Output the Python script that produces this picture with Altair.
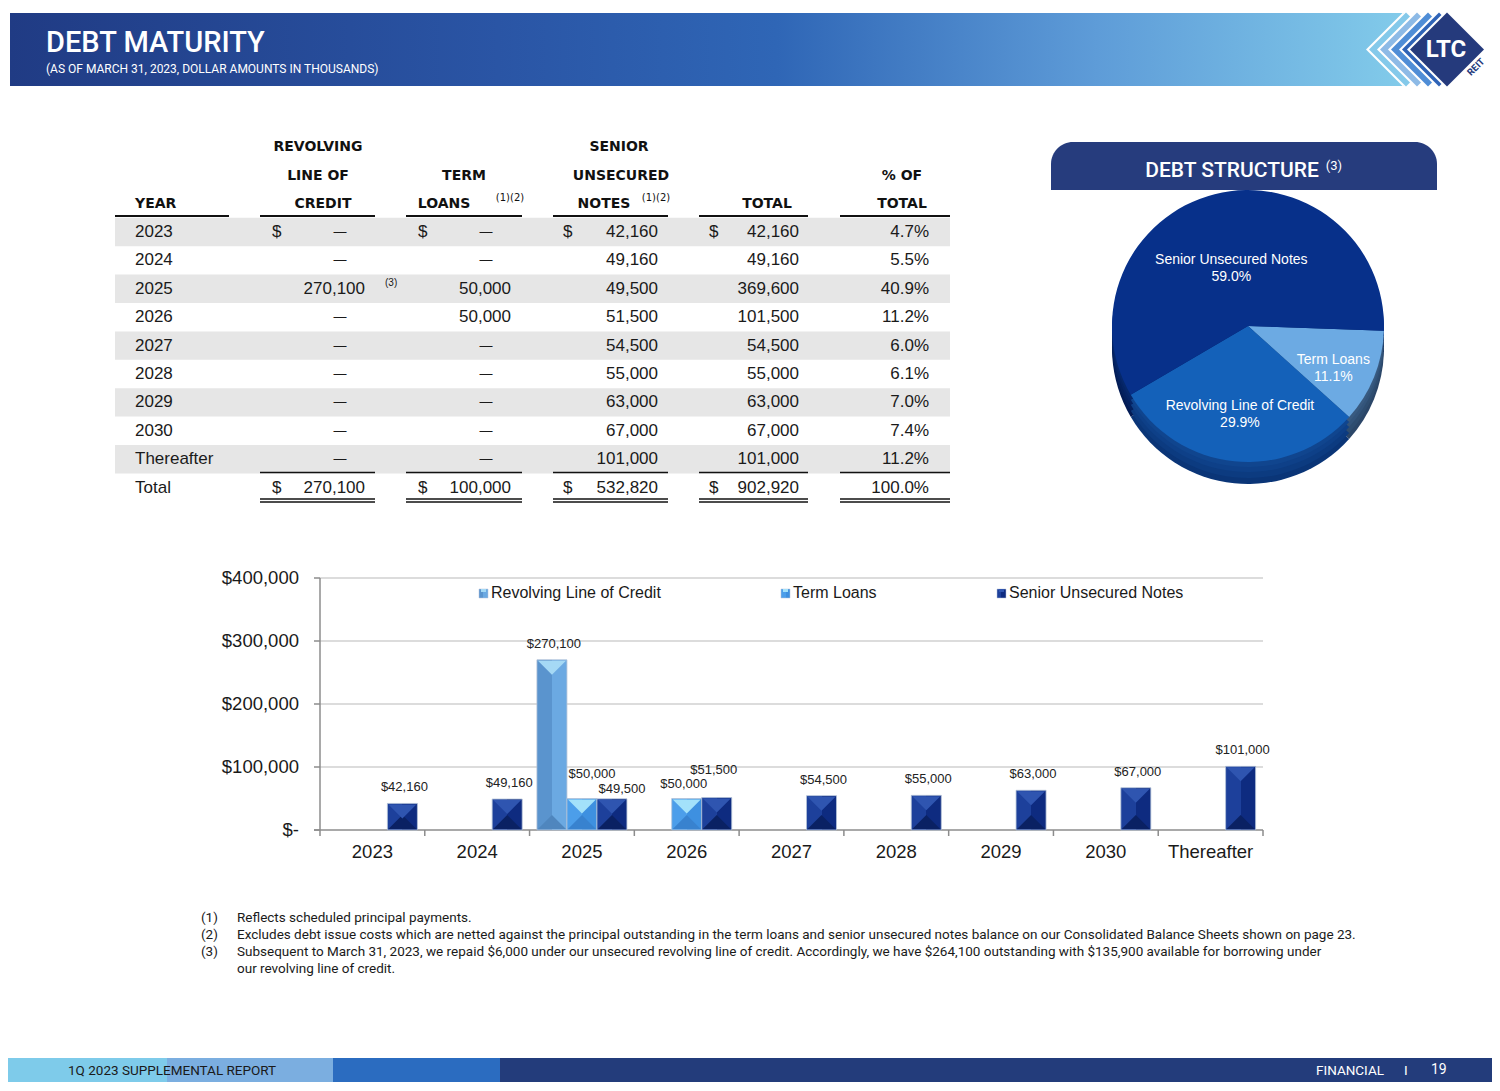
import math
import altair as alt
import pandas as pd

# ---------------- data ----------------
years = ["2023", "2024", "2025", "2026", "2027", "2028", "2029", "2030", "Thereafter"]
revolving = [0, 0, 270100, 0, 0, 0, 0, 0, 0]
term_loans = [0, 0, 50000, 50000, 0, 0, 0, 0, 0]
senior_notes = [42160, 49160, 49500, 51500, 54500, 55000, 63000, 67000, 101000]
row_totals = [42160, 49160, 369600, 101500, 54500, 55000, 63000, 67000, 101000]
pct_of_total = [4.7, 5.5, 40.9, 11.2, 6.0, 6.1, 7.0, 7.4, 11.2]
column_totals = [270100, 100000, 532820, 902920]
pct_total_all = 100.0
series_names = ["Revolving Line of Credit", "Term Loans", "Senior Unsecured Notes"]
pie_names = ["Term Loans", "Revolving Line of Credit", "Senior Unsecured Notes"]
pie_pct = [11.1, 29.9, 59.0]
y_ticks = [0, 100000, 200000, 300000, 400000]
footnote_nums = ["(1)", "(2)", "(3)", ""]
footnote_texts = [
    "Reflects scheduled principal payments.",
    "Excludes debt issue costs which are netted against the principal outstanding in the term loans and senior unsecured notes balance on our Consolidated Balance Sheets shown on page 23.",
    "Subsequent to March 31, 2023, we repaid $6,000 under our unsecured revolving line of credit. Accordingly, we have $264,100 outstanding with $135,900 available for borrowing under",
    "our revolving line of credit.",
]

# ---------------- helpers ----------------
OFF = 8  # page margin
ONE = alt.Data(values=[{}])
SANS = "Liberation Sans"
HEAD = "Roboto"


def T(text, x, y, size=14, color="#1a1a1a", align="left", baseline="middle",
      font=SANS, weight="normal", angle=None):
    kw = dict(align=align, baseline=baseline, font=font, fontSize=size,
              fontWeight=weight, color=color)
    if angle is not None:
        kw["angle"] = angle
    return alt.Chart(ONE).mark_text(**kw).encode(
        x=alt.value(x - OFF), y=alt.value(y - OFF), text=alt.value(text))


def R(x1, y1, x2, y2, color, **kw):
    return alt.Chart(ONE).mark_rect(color=color, **kw).encode(
        x=alt.value(x1 - OFF), x2=alt.value(x2 - OFF),
        y=alt.value(y1 - OFF), y2=alt.value(y2 - OFF))


def L(x1, y1, x2, y2, color="#000000", width=1.0):
    return alt.Chart(ONE).mark_rule(color=color, strokeWidth=width).encode(
        x=alt.value(x1 - OFF), x2=alt.value(x2 - OFF),
        y=alt.value(y1 - OFF), y2=alt.value(y2 - OFF))


def G(stops, horiz=True):
    return alt.Gradient(
        gradient="linear",
        stops=[alt.GradientStop(offset=o, color=c) for o, c in stops],
        x1=0, y1=0, x2=1 if horiz else 0, y2=0 if horiz else 1)


def DIA(cx, cy, r, color):
    return alt.Chart(ONE).mark_point(shape="diamond", filled=True, opacity=1,
                                     strokeWidth=0, size=(2 * r) ** 2, color=color).encode(
        x=alt.value(cx - OFF), y=alt.value(cy - OFF))


layers = []

# ---------------- header banner ----------------
layers.append(R(10, 13, 1404, 86, G([(0, "#203B84"), (0.35, "#2A55A5"), (0.55, "#2F66B6"),
                                      (0.78, "#5E9CD8"), (1, "#82CBEA")])))
logo_cx, logo_cy, logo_r = 1447, 49.5, 37
for off, col in [(44, "#ffffff"), (41, "#84C9EA"), (33, "#ffffff"), (30, "#8DBAE6"),
                 (22, "#ffffff"), (19, "#4F8DD6"), (11, "#ffffff"), (8, "#2E63B7"),
                 (3, "#ffffff"), (0, "#253A7C")]:
    layers.append(DIA(logo_cx - off, logo_cy, logo_r, col))
layers.append(T("LTC", 1446, 50, size=24, color="#ffffff", align="center", font=HEAD, weight="bold"))
layers.append(T("REIT", 1476, 67, size=9.5, color="#253A7C", align="center", font=HEAD, weight="bold", angle=315))
layers.append(T("DEBT MATURITY", 46, 43, size=29, color="#ffffff", font=HEAD, weight=500))
layers.append(T("(AS OF MARCH 31, 2023, DOLLAR AMOUNTS IN THOUSANDS)", 46, 69, size=12, color="#ffffff", font=HEAD))

# ---------------- table ----------------
def fmt(v):
    return "" if v == 0 else f"{v:,}"


rows = []
for i, yr in enumerate(years):
    rows.append(dict(ri=i, label=yr, rev=fmt(revolving[i]), term=fmt(term_loans[i]),
                     sen=fmt(senior_notes[i]), tot=fmt(row_totals[i]),
                     pct=f"{pct_of_total[i]:.1f}%", dollar=(i == 0), shade=(i % 2 == 0)))
rows.append(dict(ri=len(years), label="Total", rev=fmt(column_totals[0]), term=fmt(column_totals[1]),
                 sen=fmt(column_totals[2]), tot=fmt(column_totals[3]),
                 pct=f"{pct_total_all:.1f}%", dollar=True, shade=False))
table_df = pd.DataFrame(rows)

ROW0, ROWH = 232, 28.4
ty_scale = alt.Scale(domain=[0, 9], range=[ROW0 - OFF, ROW0 - OFF + 9 * ROWH])
tbase = alt.Chart(table_df)

layers.append(tbase.transform_filter("datum.shade").transform_calculate(
    lo="datum.ri - 0.5", hi="datum.ri + 0.5").mark_rect(color="#E6E6E6").encode(
    x=alt.value(115 - OFF), x2=alt.value(950 - OFF),
    y=alt.Y("lo:Q", scale=ty_scale, axis=None), y2="hi:Q"))

TXT = dict(font=SANS, fontSize=17, color="#1a1a1a", baseline="middle")
layers.append(tbase.mark_text(align="left", **TXT).encode(
    x=alt.value(135 - OFF), y=alt.Y("ri:Q", scale=ty_scale, axis=None), text="label:N"))

col_right = {"rev": 365, "term": 511, "sen": 658, "tot": 799, "pct": 929}
col_dollar = {"rev": 272, "term": 418, "sen": 563, "tot": 709}
col_dash = {"rev": 340, "term": 486}
for c, xr in col_right.items():
    layers.append(tbase.transform_filter(f"datum.{c} != ''").mark_text(align="right", **TXT).encode(
        x=alt.value(xr - OFF), y=alt.Y("ri:Q", scale=ty_scale, axis=None), text=f"{c}:N"))
for c, xd in col_dash.items():
    layers.append(tbase.transform_filter(f"datum.{c} == ''").mark_text(
        align="center", font=SANS, fontSize=13, color="#1a1a1a", baseline="middle", text="\u2014").encode(
        x=alt.value(xd - OFF), y=alt.Y("ri:Q", scale=ty_scale, axis=None)))
for c, xd in col_dollar.items():
    layers.append(tbase.transform_filter("datum.dollar").mark_text(align="left", text="$", **TXT).encode(
        x=alt.value(xd - OFF), y=alt.Y("ri:Q", scale=ty_scale, axis=None)))
layers.append(T("(3)", 385, 283, size=10))

HB = dict(size=14, font="DejaVu Sans", weight="bold", color="#111111")
layers += [
    T("YEAR", 135, 204, **HB),
    T("REVOLVING", 318, 147, align="center", **HB),
    T("LINE OF", 318, 176, align="center", **HB),
    T("CREDIT", 323, 204, align="center", **HB),
    T("TERM", 464, 176, align="center", **HB),
    T("LOANS", 444, 204, align="center", **HB),
    T("(1)(2)", 510, 198, size=10, align="center", font="DejaVu Sans", color="#111111"),
    T("SENIOR", 619, 147, align="center", **HB),
    T("UNSECURED", 621, 176, align="center", **HB),
    T("NOTES", 604, 204, align="center", **HB),
    T("(1)(2)", 656, 198, size=10, align="center", font="DejaVu Sans", color="#111111"),
    T("TOTAL", 767, 204, align="center", **HB),
    T("% OF", 902, 176, align="center", **HB),
    T("TOTAL", 902, 204, align="center", **HB),
]
col_spans = [(115, 229), (260, 375), (406, 522), (553, 668), (699, 808), (840, 950)]
for a, b in col_spans:
    layers.append(L(a, 216, b, 216, "#111111", 2))
for a, b in col_spans[1:]:
    layers.append(L(a, 472.5, b, 472.5, "#111111", 1.5))
    layers.append(L(a, 499, b, 499, "#111111", 1.3))
    layers.append(L(a, 502, b, 502, "#111111", 1.3))

# ---------------- pie ----------------
pie_df = pd.DataFrame({"name": pie_names, "pct": pie_pct, "ord": list(range(len(pie_names)))})
pie_df["label"] = [f"{n}\n{p:.1f}%" for n, p in zip(pie_names, pie_pct)]
START = math.radians(92)
th_scale = alt.Scale(domain=[0, 100], range=[START, START + 2 * math.pi])
PCX, PCY, PR = 1248, 326, 136
top_cols = ["#6CAAE3", "#1461B9", "#07308A"]
side_sets = [["#2B4668", "#0A3577", "#031C55"], ["#2E4D70", "#0C3B80", "#04215E"],
             ["#33547A", "#0E4088", "#052465"], ["#385A80", "#10458E", "#06286B"]]
pbase = alt.Chart(pie_df)
for dy, cols in zip([22, 16, 10, 5], side_sets):
    layers.append(pbase.mark_arc(outerRadius=PR).encode(
        theta=alt.Theta("pct:Q", stack=True, scale=th_scale),
        color=alt.Color("name:N", scale=alt.Scale(domain=pie_names, range=cols), legend=None),
        order=alt.Order("ord:Q"),
        x=alt.value(PCX - OFF), y=alt.value(PCY + dy - OFF)))
layers.append(pbase.mark_arc(outerRadius=PR).encode(
    theta=alt.Theta("pct:Q", stack=True, scale=th_scale),
    color=alt.Color("name:N", scale=alt.Scale(domain=pie_names, range=top_cols), legend=None),
    order=alt.Order("ord:Q"),
    x=alt.value(PCX - OFF), y=alt.value(PCY - OFF)))
plab = pbase.transform_window(cum="sum(pct)", sort=[alt.SortField("ord")]).transform_calculate(
    mid="datum.cum - datum.pct / 2")
for nm, rad in zip(pie_names, [92, 80, 68]):
    layers.append(plab.transform_filter(alt.datum.name == nm).mark_text(
        radius=rad, font=SANS, fontSize=14, color="#ffffff", lineBreak="\n", lineHeight=17,
        align="center", baseline="middle").encode(
        theta=alt.Theta("mid:Q", scale=th_scale), text="label:N",
        x=alt.value(PCX - OFF), y=alt.value(PCY - OFF)))

layers.append(R(1051, 142, 1437, 190, "#263C7D", cornerRadiusTopLeft=22, cornerRadiusTopRight=22))
layers.append(T("DEBT STRUCTURE", 1232, 171, size=21, color="#ffffff", align="center", font=HEAD, weight=500))
layers.append(T("(3)", 1334, 166, size=13, color="#ffffff", align="center", font=HEAD))

# ---------------- bar chart ----------------
bar_rows = []
for yr, a, b, c in zip(years, revolving, term_loans, senior_notes):
    for s, v in zip(series_names, [a, b, c]):
        if v > 0:
            bar_rows.append(dict(year=yr, series=s, value=v, lbl=f"${v:,}"))
bar_df = pd.DataFrame(bar_rows)

X0, X1, Y0, Y1 = 320, 1263, 830, 578
bx_scale = alt.Scale(domain=years, range=[X0 - OFF, X1 - OFF], paddingInner=0, paddingOuter=0)
by_scale = alt.Scale(domain=[0, 400000], range=[Y0 - OFF, Y1 - OFF])
BX = alt.X("year:N", scale=bx_scale, axis=None)
BXO = alt.XOffset("series:N", scale=alt.Scale(domain=series_names, paddingInner=0, paddingOuter=0.246))
BY = alt.Y("value:Q", scale=by_scale, axis=None)

tick_df = pd.DataFrame({"value": y_ticks,
                        "lbl": ["$-" if v == 0 else f"${v:,}" for v in y_ticks]})
tbar = alt.Chart(tick_df)
layers.append(tbar.transform_filter("datum.value > 0").mark_rule(color="#DCDCDC", strokeWidth=2).encode(
    y=BY, x=alt.value(X0 - OFF), x2=alt.value(X1 - OFF)))
layers.append(tbar.mark_rule(color="#8C8C8C", strokeWidth=1.5).encode(
    y=BY, x=alt.value(314 - OFF), x2=alt.value(X0 - OFF)))
layers.append(tbar.mark_text(align="right", baseline="middle", font=SANS, fontSize=18.5, color="#1a1a1a").encode(
    y=BY, x=alt.value(299 - OFF), text="lbl:N"))
layers.append(L(X0, Y1, X0, Y0, "#8C8C8C", 1.5))
layers.append(L(314, Y0, X1, Y0, "#8C8C8C", 1.5))

ydf = pd.DataFrame({"year": years})
layers.append(alt.Chart(ydf).mark_rule(color="#8C8C8C", strokeWidth=1.5).encode(
    x=alt.X("year:N", scale=bx_scale, axis=None, bandPosition=0),
    y=alt.value(Y0 - OFF), y2=alt.value(Y0 + 6 - OFF)))
layers.append(L(X1, Y0, X1, Y0 + 6, "#8C8C8C", 1.5))
layers.append(alt.Chart(ydf).mark_text(align="center", baseline="middle", font=SANS, fontSize=18.5,
                                       color="#1a1a1a").encode(
    x=BX, y=alt.value(852 - OFF), text="year:N"))

bar_style = {
    "Revolving Line of Credit": dict(left="#5A94CE", right="#6BA9E2", top="#A5D9F5", bot="#4F86BE"),
    "Term Loans": dict(left="#4C9EEA", right="#3E90E0", top="#A3E1FA", bot="#3882CF"),
    "Senior Unsecured Notes": dict(left="#1D409B", right="#0E2B80", top="#2F55B0", bot="#0A2163"),
}
TOP_PATH = "M-1,0L1,0L0,1Z"
BOT_PATH = "M-1,0L1,0L0,-1Z"
bbase = alt.Chart(bar_df)
for s in series_names:
    st = bar_style[s]
    sub = bbase.transform_filter(alt.datum.series == s)
    layers.append(sub.mark_bar(color=G([(0, st["left"]), (0.5, st["left"]), (0.5, st["right"]), (1, st["right"])]),
                               stroke="#B4C3D8", strokeWidth=0.8).encode(x=BX, xOffset=BXO, y=BY))
    layers.append(sub.transform_calculate(zero="0").mark_point(
        shape=BOT_PATH, size=784, filled=True, opacity=1, strokeWidth=0, color=st["bot"]).encode(
        x=BX, xOffset=BXO, y=alt.Y("zero:Q", scale=by_scale, axis=None), yOffset=alt.value(-1)))
    layers.append(sub.mark_point(
        shape=TOP_PATH, size=784, filled=True, opacity=1, strokeWidth=0, color=st["top"]).encode(
        x=BX, xOffset=BXO, y=BY, yOffset=alt.value(1)))

key = "datum.year + '|' + datum.series"
special = {
    "2025|Term Loans": (10, -25),
    "2025|Senior Unsecured Notes": (10, -10),
    "2026|Term Loans": (-3, -15),
    "2026|Senior Unsecured Notes": (-3, -28),
    "2025|Revolving Line of Credit": (2, -16),
}
LBL = dict(font=SANS, fontSize=13, color="#222222", align="center", baseline="middle")
not_special = " && ".join([f"{key} != '{k}'" for k in special])
layers.append(bbase.transform_filter(not_special).mark_text(dy=-16, dx=2, **LBL).encode(
    x=BX, xOffset=BXO, y=BY, text="lbl:N"))
for k, (dx, dy) in special.items():
    layers.append(bbase.transform_filter(f"{key} == '{k}'").mark_text(dx=dx, dy=dy, **LBL).encode(
        x=BX, xOffset=BXO, y=BY, text="lbl:N"))

# legend
for s, lx in zip(series_names, [479, 781, 997]):
    st = bar_style[s]
    layers.append(R(lx, 589, lx + 9, 598, G([(0, st["left"]), (0.5, st["left"]), (0.5, st["right"]), (1, st["right"])]),
                    stroke="#B4C3D8", strokeWidth=0.5))
    layers.append(R(lx + 2, 589, lx + 7, 592, st["top"]))
    layers.append(T(s, lx + 12, 593, size=16, color="#1a1a1a"))

# ---------------- footnotes ----------------
for i, (n, t) in enumerate(zip(footnote_nums, footnote_texts)):
    yy = 918 + 17 * i
    if n:
        layers.append(T(n, 201, yy, size=13.5, font=HEAD))
    layers.append(T(t, 237, yy, size=13.5, font=HEAD))

# ---------------- footer ----------------
FY0, FY1 = 1058, 1091
layers += [
    R(0, FY0, 167, FY1, "#7ECBEA"),
    R(167, FY0, 333, FY1, "#7BAEE0"),
    R(333, FY0, 500, FY1, "#2B6CC0"),
    R(500, FY0, 1500, FY1, "#233C7B"),
    T("1Q 2023 SUPPLEMENTAL REPORT", 68, 1071, size=13.5, font=HEAD, color="#1a1a1a"),
    T("FINANCIAL", 1316, 1071, size=13.5, font=HEAD, color="#ffffff"),
    T("I", 1404, 1071, size=13.5, font=HEAD, color="#ffffff"),
    T("19", 1431, 1070, size=14, font=HEAD, color="#ffffff"),
]

chart = alt.layer(*layers).resolve_scale(
    x="independent", y="independent", color="independent", theta="independent"
).properties(
    width=1484, height=1074, padding=0,
    autosize=alt.AutoSizeParams(type="none"),
    background="#ffffff",
).configure_view(strokeWidth=0)

chart.save("out.html", embed_options={"renderer": "svg", "actions": False})
